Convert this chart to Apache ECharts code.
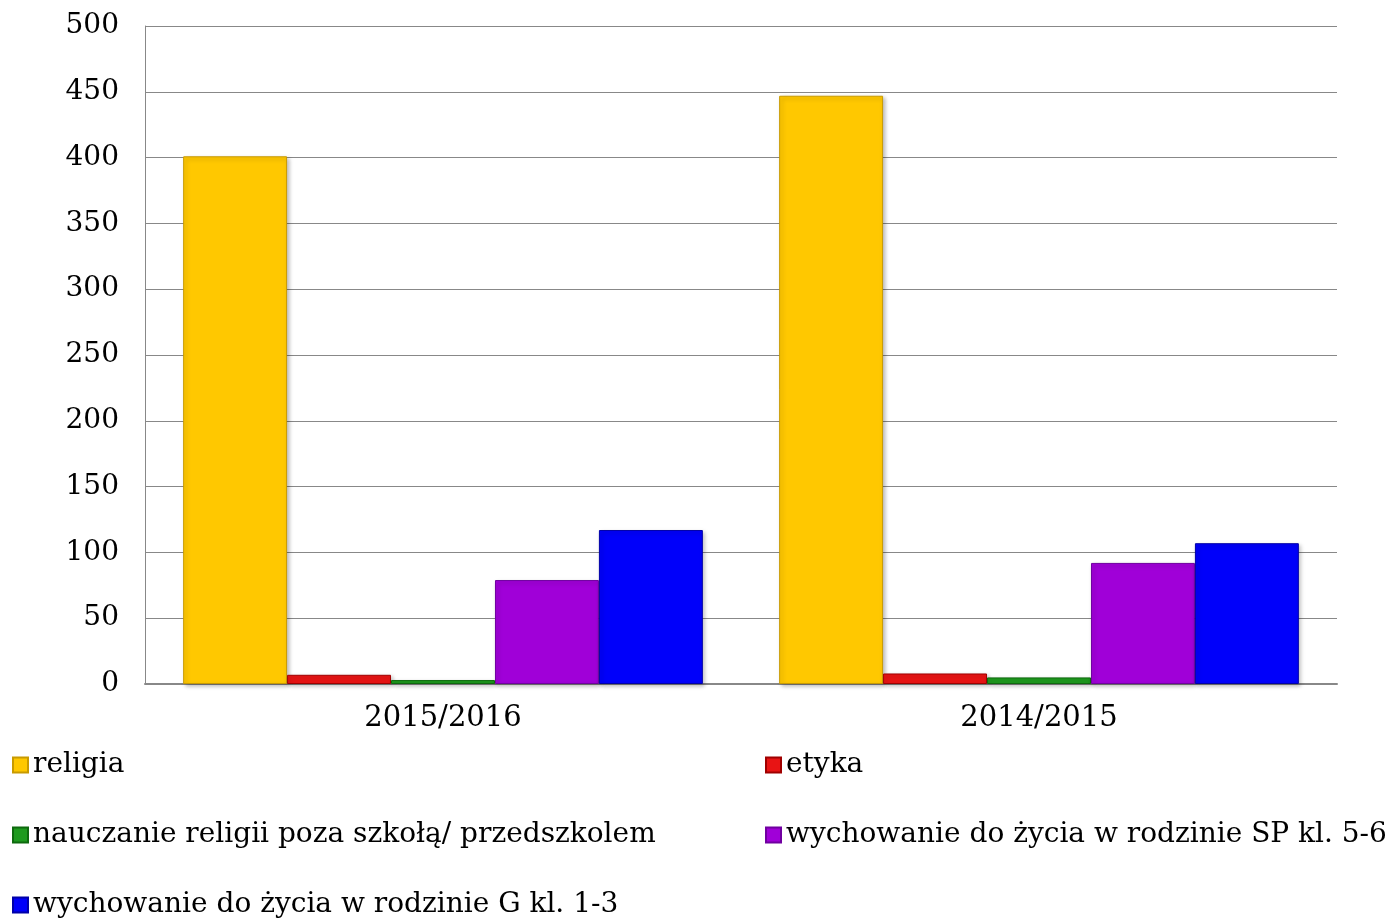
<!DOCTYPE html>
<html>
<head>
<meta charset="utf-8">
<script src="https://cdn.jsdelivr.net/npm/echarts@6/dist/echarts.min.js"></script>
<style>
  html, body { margin: 0; padding: 0; background: #fff; }
  #chart { width: 1400px; height: 924px; }
</style>
</head>
<body>
<div id="chart"></div>
<script>
var categories = ['2015/2016', '2014/2015'];
var seriesNames = [
    'religia',
    'etyka',
    'nauczanie religii poza szkołą/ przedszkolem',
    'wychowanie do życia w rodzinie SP kl. 5-6',
    'wychowanie do życia w rodzinie G kl. 1-3'
];
var religia = [401, 447];
var etyka = [7, 8];
var nauczanie = [3, 5];
var wdzSP = [79, 92];
var wdzG = [117, 107];
var yTicks = [0, 50, 100, 150, 200, 250, 300, 350, 400, 450, 500];

var colors = ['#FFC800', '#E81414', '#1E9A1E', '#A000D8', '#0000FA'];
var borders = ['#C89A00', '#A00000', '#0E6A0E', '#7000A0', '#0000A8'];
var values = [religia, etyka, nauczanie, wdzSP, wdzG];
var font = '"DejaVu Serif", serif';

var chart = echarts.init(document.getElementById('chart'));

var series = [];
for (var i = 0; i < seriesNames.length; i++) {
    series.push({
        name: seriesNames[i],
        type: 'bar',
        data: values[i],
        barGap: '0%',
        barCategoryGap: '12.8%',
        itemStyle: {
            color: colors[i],
            borderColor: borders[i],
            borderWidth: 1,
            shadowColor: 'rgba(0,0,0,0.25)',
            shadowBlur: 4,
            shadowOffsetX: 2,
            shadowOffsetY: 2
        }
    });
}

var legendText = { fontFamily: font, fontSize: 28, color: '#000', lineHeight: 30 };

function makeLegend(left, names) {
    return {
        orient: 'vertical',
        left: left,
        top: 750,
        padding: 0,
        itemWidth: 15,
        itemHeight: 15,
        itemGap: 40,
        icon: 'rect',
        textStyle: legendText,
        data: names
    };
}

chart.setOption({
    animation: false,
    color: colors,
    grid: { left: 145, right: 63, top: 26, bottom: 240 },
    xAxis: {
        type: 'category',
        data: categories,
        axisLine: { show: true, lineStyle: { color: '#888', width: 2 } },
        axisTick: { show: false },
        axisLabel: { fontFamily: font, fontSize: 29, color: '#000', margin: 20 }
    },
    yAxis: {
        type: 'value',
        min: yTicks[0],
        max: yTicks[yTicks.length - 1],
        interval: 50,
        axisLine: { show: true, lineStyle: { color: '#888', width: 1 } },
        axisTick: { show: false },
        splitLine: { lineStyle: { color: '#888', width: 1 } },
        axisLabel: { fontFamily: font, fontSize: 28, color: '#000', margin: 26 }
    },
    legend: [
        makeLegend(12, [seriesNames[0], seriesNames[2], seriesNames[4]]),
        makeLegend(765, [seriesNames[1], seriesNames[3]])
    ],
    series: series
});
</script>
</body>
</html>
